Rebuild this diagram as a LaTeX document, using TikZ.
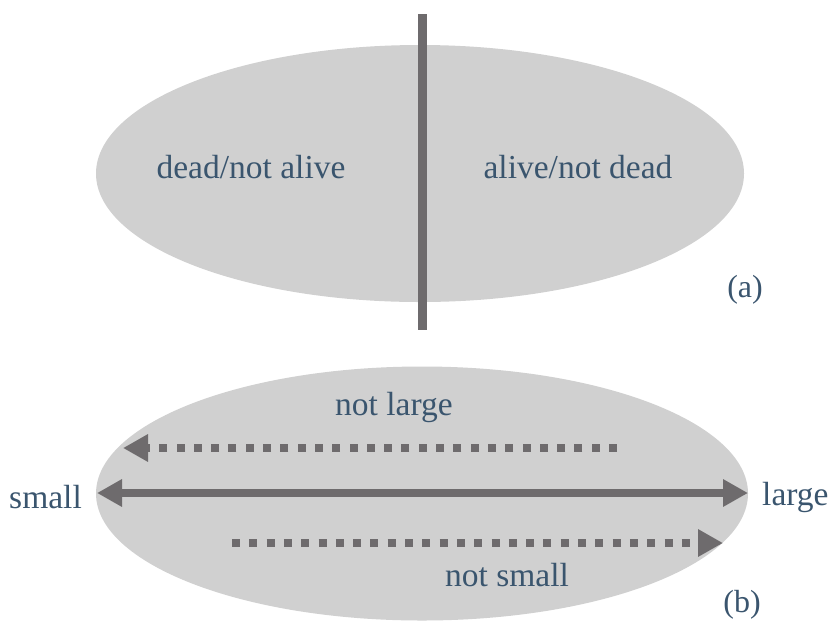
\documentclass[tikz,border=0pt]{standalone}
\usepackage{fontspec}
\setmainfont{Liberation Serif}
\usetikzlibrary{arrows.meta,shapes.geometric}
\definecolor{disc}{RGB}{208,208,208}
\definecolor{bar}{RGB}{110,107,109}
\definecolor{ink}{RGB}{58,85,110}
\tikzset{
  region/.style={ellipse, fill=disc, draw=none, inner sep=0pt},
  word/.style={text=ink, font=\fontsize{33.5}{38}\selectfont, inner sep=0pt},
  tag/.style={text=ink, font=\fontsize{32}{36}\selectfont, inner sep=0pt},
  twoway/.style={draw=bar, line width=8pt, {Triangle[length=25pt,width=26pt]}-{Triangle[length=25pt,width=26pt]}},
  dotarrow/.style={draw=bar, line width=8pt, dash pattern=on 8pt off 9.3pt, -{Triangle[length=25pt,width=26pt]}},
  divider/.style={draw=bar, line width=8.5pt}
}
\begin{document}
\begin{tikzpicture}[x=1pt,y=-1pt]
\useasboundingbox (0,0) rectangle (829,630);
% (a) two halves of one ellipse
\node[region, minimum width=648pt, minimum height=257pt] (top) at (420,173.5) {};
\coordinate (bartop) at (422.5,14);
\coordinate (barbot) at (422.5,330);
\draw[divider] (bartop) -- (barbot);
\node[word] (dead) at (251,167) {dead/not alive};
\node[word] (alive) at (578,167) {alive/not dead};
\node[tag] (a) at (745,290) {(a)};
% (b) a scale from small to large
\node[region, minimum width=652pt, minimum height=254pt] (bottom) at (422,493.5) {};
\node[word, anchor=east] (small) at (82,497) {small};
\node[word, anchor=west] (large) at (762,497) {large};
\coordinate (sl) at (97,493);
\coordinate (lg) at (748,493);
\draw[twoway] (sl) -- (lg);
\coordinate (nlstart) at (617,448);
\coordinate (nlend) at (123,448);
\draw[dotarrow] (nlstart) -- (nlend);
\coordinate (nsstart) at (232,543);
\coordinate (nsend) at (723,543);
\draw[dotarrow] (nsstart) -- (nsend);
\node[word] (notlarge) at (394,407) {not large};
\node[word] (notsmall) at (507,575) {not small};
\node[tag] (b) at (742,605) {(b)};
\end{tikzpicture}
\end{document}
